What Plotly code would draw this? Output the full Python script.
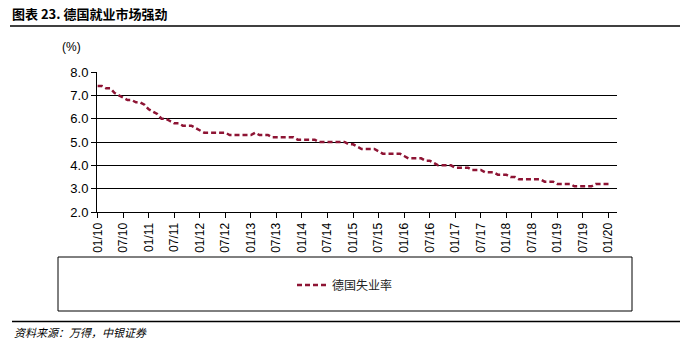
import plotly.graph_objects as go

# ---- data ----
series_name = "德国失业率"
months = [f"{m:02d}/{y:02d}" for y in range(10, 21) for m in range(1, 13)][:121]
unemployment = [
    7.4, 7.4, 7.3, 7.3, 7.1, 7.0, 6.9, 6.8, 6.8, 6.7, 6.7, 6.6,   # 2010
    6.4, 6.3, 6.2, 6.0, 6.0, 5.9, 5.8, 5.8, 5.7, 5.7, 5.7, 5.6,   # 2011
    5.5, 5.4, 5.4, 5.4, 5.4, 5.4, 5.4, 5.3, 5.3, 5.3, 5.3, 5.3,   # 2012
    5.3, 5.4, 5.3, 5.3, 5.3, 5.2, 5.2, 5.2, 5.2, 5.2, 5.2, 5.1,   # 2013
    5.1, 5.1, 5.1, 5.1, 5.0, 5.0, 5.0, 5.0, 5.0, 5.0, 5.0, 4.9,   # 2014
    4.9, 4.8, 4.7, 4.7, 4.7, 4.7, 4.6, 4.5, 4.5, 4.5, 4.5, 4.5,   # 2015
    4.4, 4.3, 4.3, 4.3, 4.3, 4.2, 4.2, 4.1, 4.0, 4.0, 4.0, 4.0,   # 2016
    3.9, 3.9, 3.9, 3.9, 3.8, 3.8, 3.8, 3.7, 3.7, 3.7, 3.6, 3.6,   # 2017
    3.6, 3.5, 3.5, 3.4, 3.4, 3.4, 3.4, 3.4, 3.4, 3.3, 3.3, 3.3,   # 2018
    3.2, 3.2, 3.2, 3.2, 3.1, 3.1, 3.1, 3.1, 3.1, 3.2, 3.2, 3.2,   # 2019
    3.2,                                                          # 2020
]
tick_labels = ["01/10", "07/10", "01/11", "07/11", "01/12", "07/12", "01/13",
               "07/13", "01/14", "07/14", "01/15", "07/15", "01/16", "07/16",
               "01/17", "07/17", "01/18", "07/18", "01/19", "07/19", "01/20"]
y_ticks = [2.0, 3.0, 4.0, 5.0, 6.0, 7.0, 8.0]

title_text = "图表 23. 德国就业市场强劲"
unit_text = "(%)"
source_text = "资料来源：万得，中银证券"

# ---- figure ----
W, H = 680, 341
L, R, T, B = 97, 63, 72, 129
pw, ph = W - L - R, H - T - B

def px(x):
    return (x - L) / pw

def py(y):
    return (H - B - y) / ph

x_idx = list(range(len(months)))
tick_pos = [months.index(t) for t in tick_labels]

fig = go.Figure()
fig.add_trace(go.Scatter(
    x=x_idx, y=unemployment, mode="lines", name=series_name,
    line=dict(color="#8E1434", width=2.5, dash="5px,3px"),
))

fig.update_layout(
    width=W, height=H,
    margin=dict(l=L, r=R, t=T, b=B),
    paper_bgcolor="white", plot_bgcolor="white",
    font=dict(family="Liberation Sans, Arial", size=12, color="black"),
    showlegend=True,
    legend=dict(orientation="h", x=px(345), xanchor="center",
                y=py(285), yanchor="middle",
                font=dict(family="Noto Sans CJK SC", size=12, color="#222"),
                bgcolor="rgba(0,0,0,0)"),
    xaxis=dict(range=[-0.15, 122.0], tickvals=tick_pos, ticktext=tick_labels,
               tickangle=-90, ticks="outside", ticklen=5, tickcolor="black",
               showline=True, linecolor="black", linewidth=1,
               showgrid=False, zeroline=False,
               tickfont=dict(family="Liberation Sans, Arial", size=12)),
    yaxis=dict(range=[2.0, 8.001], tickvals=y_ticks,
               ticktext=[f"{v:.1f}" for v in y_ticks],
               ticks="outside", ticklen=5, tickcolor="black",
               showline=True, linecolor="black", linewidth=1,
               showgrid=True, gridcolor="black", gridwidth=1,
               zeroline=False,
               tickfont=dict(family="Liberation Sans, Arial", size=13)),
)

shapes = [
    # line under title
    dict(type="line", xref="paper", yref="paper",
         x0=px(10), x1=px(680), y0=py(26), y1=py(26),
         line=dict(color="black", width=1.5)),
    # legend box
    dict(type="rect", xref="paper", yref="paper",
         x0=px(58), x1=px(632), y0=py(257), y1=py(311),
         line=dict(color="black", width=1)),
    # line above source
    dict(type="line", xref="paper", yref="paper",
         x0=px(12), x1=px(680), y0=py(321.5), y1=py(321.5),
         line=dict(color="black", width=1.5)),
]
fig.update_layout(shapes=shapes)

fig.add_annotation(text=f"<b>{title_text}</b>", xref="paper", yref="paper",
                   x=px(10), y=py(14), xanchor="left", yanchor="middle",
                   showarrow=False,
                   font=dict(family="Noto Sans CJK SC", size=13, color="black"))
fig.add_annotation(text=unit_text, xref="paper", yref="paper",
                   x=px(71), y=py(47), xanchor="center", yanchor="middle",
                   showarrow=False,
                   font=dict(family="Liberation Sans, Arial", size=12, color="black"))
fig.add_annotation(text=f"<i>{source_text}</i>", xref="paper", yref="paper",
                   x=px(12), y=py(332), xanchor="left", yanchor="middle",
                   showarrow=False,
                   font=dict(family="Noto Sans CJK SC", size=11, color="black"))

fig.write_html("out.html")
